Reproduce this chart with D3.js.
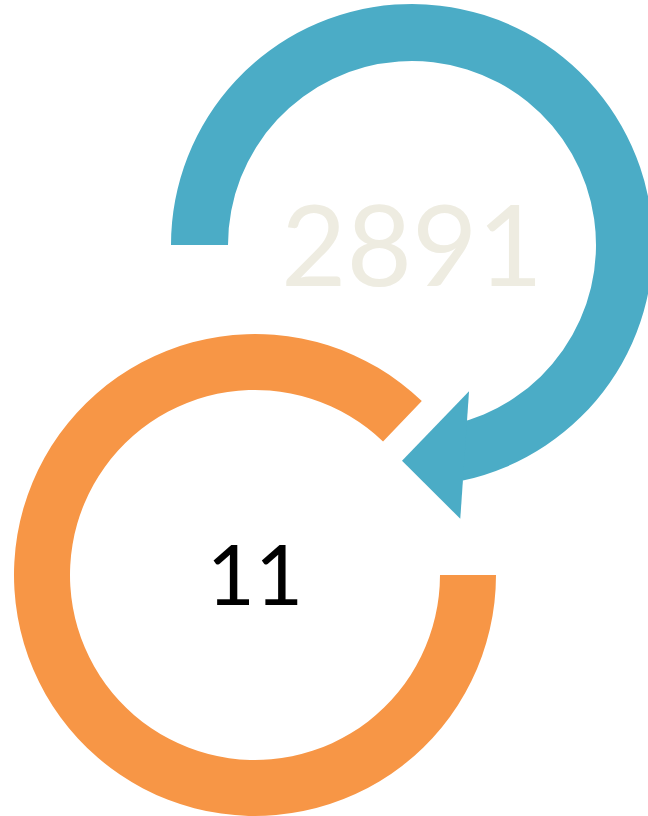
<!DOCTYPE html>
<html>
<head>
<meta charset="utf-8">
<script src="https://cdn.jsdelivr.net/npm/d3@7"></script>
<style>
  html, body { margin: 0; padding: 0; background: #ffffff; }
  svg { display: block; }
</style>
</head>
<body>
<svg id="chart" width="648" height="816"></svg>
<script>
// Værdier og labels
var labels = ["2891", "11"];
var colors = ["#4BACC6", "#F79646"];
var textColors = ["#EEECE1", "#000000"];
// Buernes vinkler i grader (0 = kl. 12, med uret)
var startDeg = [-90, 90];
var endDeg = [167.8, 403.8];

var svg = d3.select("#chart");
var toRad = d3.scaleLinear().domain([0, 180]).range([0, Math.PI]);

// Layout for de to ringe
var rings = [
  { cx: 412, cy: 245, inner: 184, outer: 241, fontSize: 113 },
  { cx: 255, cy: 575, inner: 185, outer: 241, fontSize: 83 }
];

var arc = d3.arc();

rings.forEach(function(r, i) {
  var g = svg.append("g").attr("transform", "translate(" + r.cx + "," + r.cy + ")");

  g.append("path")
    .attr("d", arc({
      innerRadius: r.inner,
      outerRadius: r.outer,
      startAngle: toRad(startDeg[i]),
      endAngle: toRad(endDeg[i])
    }))
    .attr("fill", colors[i]);

  // pilespids på den blå bue
  if (i === 0) {
    var head = [[182.65, 216], [158.7, 157], [170, 278]].map(function(p) {
      return d3.pointRadial(toRad(p[0]), p[1]);
    });
    g.append("path")
      .attr("d", d3.line()(head) + "Z")
      .attr("fill", colors[i]);
  }

  g.append("text")
    .attr("x", 0)
    .attr("y", r.fontSize * 0.36)
    .attr("text-anchor", "middle")
    .style("font-family", "Lato, 'Open Sans', sans-serif")
    .style("font-size", r.fontSize + "px")
    .attr("fill", textColors[i])
    .text(labels[i]);
});
</script>
</body>
</html>
